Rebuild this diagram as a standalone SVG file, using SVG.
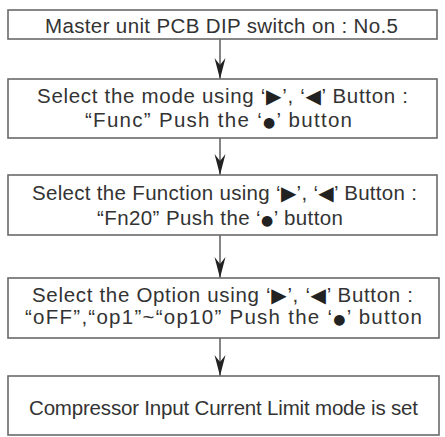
<svg xmlns="http://www.w3.org/2000/svg" width="445" height="437" viewBox="0 0 445 437">
<defs>
<style>
.box{fill:#fff;stroke:#6a6a6a;stroke-width:1.6}
.t{font-family:"Liberation Sans","DejaVu Sans",Arial,sans-serif;font-size:20.5px;fill:#333;text-anchor:start}
.g{font-family:"DejaVu Sans",sans-serif;font-size:20px;fill:#222}
.d{font-family:"DejaVu Sans",sans-serif;font-size:14px;fill:#222}
.ln{stroke:#444;stroke-width:1.3;fill:none}
.hd{fill:#222}
</style>
<marker id="ah" viewBox="-22 -7 23 14" markerWidth="23" markerHeight="14" refX="0" refY="0" orient="auto" markerUnits="userSpaceOnUse">
<path class="hd" d="M0,0 L-21,-5.5 L-14,0 L-21,5.5 Z"/>
</marker>
</defs>
<rect width="445" height="437" fill="#fff"/>
<g id="connectors">
<line class="ln" x1="220" y1="39" x2="220" y2="79" marker-end="url(#ah)"/>
<line class="ln" x1="220" y1="138" x2="220" y2="175" marker-end="url(#ah)"/>
<line class="ln" x1="220" y1="235" x2="220" y2="278" marker-end="url(#ah)"/>
<line class="ln" x1="220" y1="338" x2="220" y2="376" marker-end="url(#ah)"/>
</g>
<g id="n1">
<rect class="box" x="8" y="10" width="429" height="29"/>
<text class="t" x="45" y="33" textLength="353">Master unit PCB DIP switch on : No.5</text>
</g>
<g id="n2">
<rect class="box" x="8" y="79" width="429" height="59"/>
<text class="t" x="37" y="103" textLength="371">Select the mode using ‘<tspan class="g">▶</tspan>’, ‘<tspan class="g">◀</tspan>’ Button :</text>
<text class="t" x="85" y="127" textLength="267">“Func” Push the ‘<tspan class="d">●</tspan>’ button</text>
</g>
<g id="n3">
<rect class="box" x="8" y="175" width="429" height="60"/>
<text class="t" x="32" y="200" textLength="385">Select the Function using ‘<tspan class="g">▶</tspan>’, ‘<tspan class="g">◀</tspan>’ Button :</text>
<text class="t" x="97" y="225" textLength="246">“Fn20” Push the ‘<tspan class="d">●</tspan>’ button</text>
</g>
<g id="n4">
<rect class="box" x="8" y="278" width="431" height="60"/>
<text class="t" x="32" y="302" textLength="381">Select the Option using ‘<tspan class="g">▶</tspan>’, ‘<tspan class="g">◀</tspan>’ Button :</text>
<text class="t" x="25" y="324" textLength="397">“oFF”,“op1”~“op10” Push the ‘<tspan class="d">●</tspan>’ button</text>
</g>
<g id="n5">
<rect class="box" x="8" y="376" width="431" height="59"/>
<text class="t" x="29" y="415" textLength="389">Compressor Input Current Limit mode is set</text>
</g>
</svg>
